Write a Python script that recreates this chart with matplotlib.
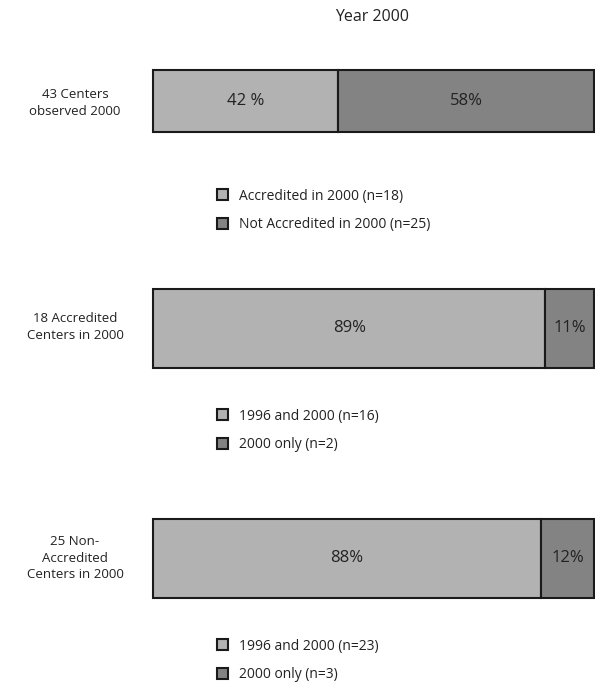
import matplotlib
matplotlib.use("Agg")
import matplotlib.pyplot as plt
from matplotlib.patches import Patch

# data
title = "Year 2000"
group_labels = ["43 Centers\nobserved 2000",
                "18 Accredited\nCenters in 2000",
                "25 Non-\nAccredited\nCenters in 2000"]
first_pct = [42, 89, 88]
second_pct = [58, 11, 12]
first_text = ["42 %", "89%", "88%"]
second_text = ["58%", "11%", "12%"]
legend_labels = [["Accredited in 2000 (n=18)", "Not Accredited in 2000 (n=25)"],
                 ["1996 and 2000 (n=16)", "2000 only (n=2)"],
                 ["1996 and 2000 (n=23)", "2000 only (n=3)"]]

light = "#b2b2b2"
dark = "#838383"
W, H = 595, 685

plt.rcParams['font.family'] = ['Open Sans', 'DejaVu Sans']
fig = plt.figure(figsize=(W / 100, H / 100), dpi=100)

# bar boxes in pixels: (top, bottom)
bar_px = [(70, 132), (289, 368), (519, 598)]
label_y = [103, 327, 558]
legend_top = [183, 403, 633]
x0, x1 = 153, 594

fig.text(372 / W, 1 - 17 / H, title, ha="center", va="center", fontsize=11.5,
         color="#222222")

for i in range(3):
    top, bot = bar_px[i]
    ax = fig.add_axes([x0 / W, 1 - bot / H, (x1 - x0) / W, (bot - top) / H])
    ax.barh(0, first_pct[i], height=1, color=light, edgecolor="#1a1a1a",
            linewidth=1.5, clip_on=False)
    ax.barh(0, second_pct[i], left=first_pct[i], height=1, color=dark,
            edgecolor="#1a1a1a", linewidth=1.5, clip_on=False)
    ax.set_xlim(0, 100)
    ax.set_ylim(-0.5, 0.5)
    ax.axis("off")
    ax.text(first_pct[i] / 2, 0, first_text[i], ha="center", va="center",
            fontsize=12, color="#222222")
    ax.text(first_pct[i] + second_pct[i] / 2, 0, second_text[i], ha="center",
            va="center", fontsize=12, color="#222222")

    fig.text(75 / W, 1 - label_y[i] / H, group_labels[i], ha="center", va="center",
             fontsize=9.5, linespacing=1.35, color="#222222")

    handles = [Patch(facecolor=light, edgecolor="#1a1a1a", linewidth=1.5),
               Patch(facecolor=dark, edgecolor="#1a1a1a", linewidth=1.5)]
    leg = fig.legend(handles, legend_labels[i], loc="upper left",
                     bbox_to_anchor=(211 / W, 1 - legend_top[i] / H),
                     frameon=False, fontsize=10, handlelength=0.85, handleheight=0.85,
                     handletextpad=0.8, labelspacing=1.0, borderaxespad=0)
    for t in leg.get_texts():
        t.set_color("#222222")

fig.savefig("out.png", dpi=100)
